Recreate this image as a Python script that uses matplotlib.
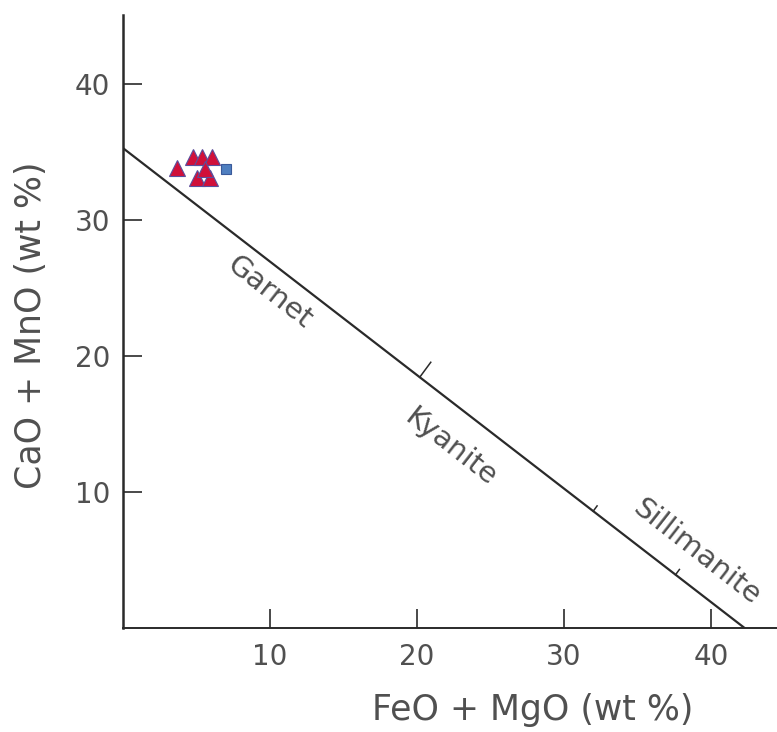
import numpy as np
import matplotlib.pyplot as plt

# ------------------------------------------------------------
# DATA
# ------------------------------------------------------------
tri_x = [3.7, 4.8, 5.4, 6.05, 5.05, 5.9, 5.6]
tri_y = [33.8, 34.6, 34.6, 34.6, 33.1, 33.1, 33.75]
sq_x = [7.05]
sq_y = [33.75]

# boundary line between (0, a) and (b, 0)
line_x = [0.0, 42.3]
line_y = [35.3, 0.0]

# tick marks on the boundary line (FeO + MgO position, length)
mark_x = [20.2, 32.0, 37.6]
mark_len = [1.0, 0.35, 0.35]

xticks = [10, 20, 30, 40]
yticks = [10, 20, 30, 40]

zone_names = ["Garnet", "Kyanite", "Sillimanite"]
zone_x = [10.0, 22.3, 39.0]
zone_y = [24.7, 13.3, 5.6]

TXT = "#505050"
INK = "#2a2a2a"

# ------------------------------------------------------------
# PLOT
# ------------------------------------------------------------
fig = plt.figure(figsize=(7.77, 7.32), dpi=100)
ax = fig.add_axes([0.158, 0.142, 0.842, 0.838])

ax.set_xlim(0, 44.5)
ax.set_ylim(0, 45.1)

for s in ["top", "right"]:
    ax.spines[s].set_visible(False)
ax.spines["left"].set_linewidth(1.8)
ax.spines["bottom"].set_linewidth(1.4)
ax.spines["left"].set_color(INK)
ax.spines["bottom"].set_color(INK)

ax.set_xticks(xticks)
ax.set_yticks(yticks)
ax.tick_params(axis="both", direction="in", length=14, width=1.2,
               color=INK, labelsize=20, labelcolor=TXT)
ax.tick_params(axis="x", pad=11)
ax.tick_params(axis="y", pad=9)

ax.plot(line_x, line_y, color=INK, lw=1.6, zorder=2)

# perpendicular tick marks on the line
slope = (line_y[1] - line_y[0]) / (line_x[1] - line_x[0])
for mx, ml in zip(mark_x, mark_len):
    my = line_y[0] + slope * (mx - line_x[0])
    ax.plot([mx, mx + 0.75 * ml], [my, my + 1.1 * ml], color=INK, lw=1.1)

ax.plot(tri_x, tri_y, ls="none", marker="^", ms=11, mfc="#d0103a",
        mec="#5a4f9e", mew=0.8, zorder=4)
ax.plot(sq_x, sq_y, ls="none", marker="s", ms=7, mfc="#4f7fc0",
        mec="#3a5a9a", mew=0.8, zorder=3)

for name, zx, zy in zip(zone_names, zone_x, zone_y):
    ax.text(zx, zy, name, rotation=-38, rotation_mode="anchor",
            ha="center", va="center", fontsize=21, color=TXT)

fig.text(0.685, 0.030, "FeO + MgO (wt %)", ha="center", va="center",
         fontsize=25, color=TXT)
fig.text(0.040, 0.556, "CaO + MnO (wt %)", ha="center", va="center",
         rotation=90, fontsize=25, color=TXT)

fig.savefig("out.png", dpi=100)
